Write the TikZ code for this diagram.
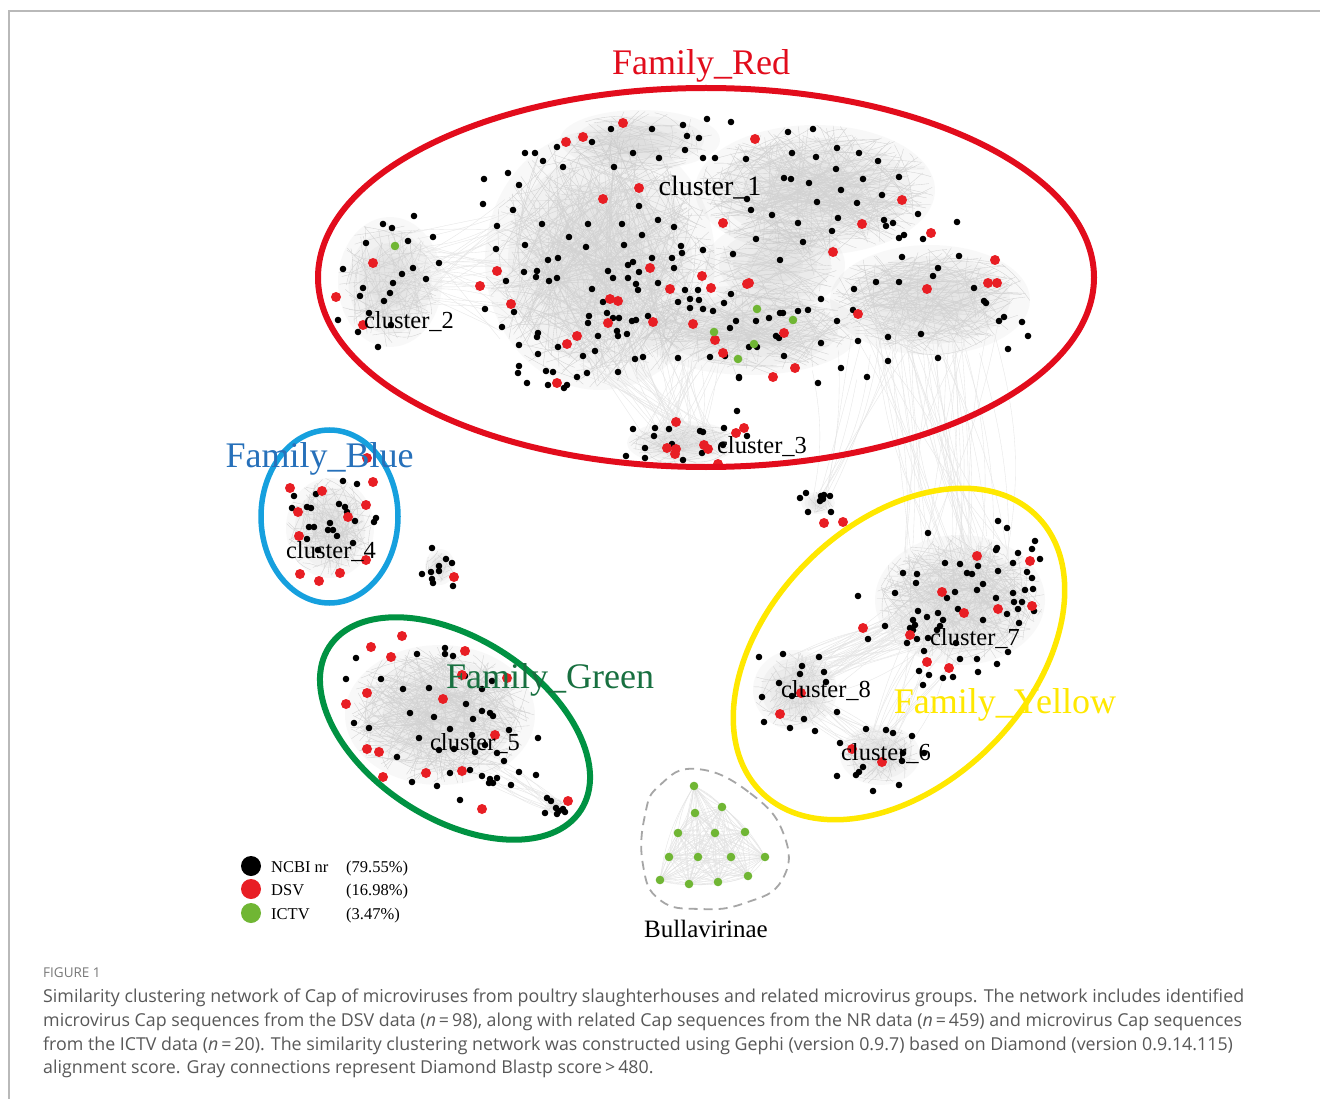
\documentclass[tikz,border=0pt]{standalone}
\usepackage{fontspec}
\setmainfont{Liberation Serif}
\newfontfamily\capfont{Open Sans}
\usepackage{tikz}
\usetikzlibrary{positioning}
\usepackage{xcolor}
\definecolor{famred}{RGB}{226,12,28}
\definecolor{famblue}{RGB}{22,160,222}
\definecolor{famgreen}{RGB}{0,146,66}
\definecolor{famyellow}{RGB}{255,232,0}
\definecolor{bluetext}{RGB}{38,112,186}
\definecolor{greentext}{RGB}{24,112,64}
\definecolor{dsvred}{RGB}{232,30,36}
\definecolor{ictvgreen}{RGB}{112,182,52}
\definecolor{capgray}{RGB}{88,88,88}
\tikzstyle{edge}      = [draw=gray!35, line width=0.35pt]
\tikzstyle{haze}      = [fill=gray, opacity=0.05]
\tikzstyle{ring}      = [line width=5.5pt]
\tikzstyle{family}    = [anchor=base, inner sep=0pt, font=\fontsize{36}{40}\selectfont]
\tikzstyle{cluster}   = [anchor=base, inner sep=0pt, font=\fontsize{24.5}{28}\selectfont]
\tikzstyle{legendtxt} = [anchor=base west, inner sep=0pt, font=\fontsize{16.5}{19}\selectfont]
\tikzstyle{caption}   = [anchor=base west, inner sep=0pt, text=capgray, font=\capfont\fontsize{17.8}{21}\selectfont]
% random gray connections inside one cluster: cx, cy, rx, ry, count
\newcommand{\edgecloud}[5]{%
  \foreach \s in {1,0.8,0.6,0.4}
    \fill[haze] (#1,#2) ellipse [x radius=\s*#3pt, y radius=\s*#4pt];
  \foreach \k in {1,...,#5}{%
    \pgfmathsetmacro{\angA}{360*rnd}\pgfmathsetmacro{\radA}{sqrt(rnd)}%
    \pgfmathsetmacro{\angB}{360*rnd}\pgfmathsetmacro{\radB}{sqrt(rnd)}%
    \pgfmathsetmacro{\bendAB}{50*rnd-25}%
    \draw[edge] ({#1+#3*\radA*cos(\angA)},{#2+#4*\radA*sin(\angA)})
      to[bend left=\bendAB] ({#1+#3*\radB*cos(\angB)},{#2+#4*\radB*sin(\angB)});
  }}
% gray connections between two clusters
\newcommand{\edgebridge}[9]{%
  \foreach \k in {1,...,#9}{%
    \pgfmathsetmacro{\angA}{360*rnd}\pgfmathsetmacro{\radA}{sqrt(rnd)}%
    \pgfmathsetmacro{\angB}{360*rnd}\pgfmathsetmacro{\radB}{sqrt(rnd)}%
    \pgfmathsetmacro{\bendAB}{30*rnd-15}%
    \draw[edge, draw=gray!20] ({#1+#3*\radA*cos(\angA)},{#2+#4*\radA*sin(\angA)})
      to[bend left=\bendAB] ({#5+#7*\radB*cos(\angB)},{#6+#8*\radB*sin(\angB)});
  }}

\begin{document}
\begin{tikzpicture}[x=1pt, y=-1pt]
  \useasboundingbox (0,0) rectangle (1320,1099);
  \fill[white] (0,0) rectangle (1320,1099);
  \draw[gray!55, line width=1.3pt] (1320,11) -- (9,11) -- (9,1099);

  % gray connections
  \pgfmathsetseed{11}
  \edgecloud{600}{260}{115}{130}{380}
  \edgecloud{815}{190}{120}{65}{260}
  \edgecloud{930}{300}{100}{55}{180}
  \edgecloud{750}{330}{110}{45}{150}
  \edgecloud{775}{265}{70}{45}{80}
  \edgecloud{640}{140}{80}{30}{60}
  \edgecloud{390}{282}{52}{65}{100}
  \edgecloud{682}{443}{55}{22}{60}
  \edgecloud{330}{528}{44}{50}{100}
  \edgecloud{440}{567}{15}{18}{12}
  \edgecloud{440}{715}{95}{70}{260}
  \edgecloud{960}{600}{85}{65}{220}
  \edgecloud{795}{690}{42}{40}{65}
  \edgecloud{880}{755}{40}{30}{50}
  \edgecloud{818}{503}{17}{11}{10}
  \edgecloud{555}{806}{10}{8}{8}
  \edgebridge{400}{270}{40}{40}{520}{270}{40}{80}{40}
  \edgebridge{650}{360}{90}{25}{685}{440}{45}{18}{50}
  \edgebridge{930}{330}{80}{30}{960}{560}{60}{30}{45}
  \edgebridge{920}{620}{40}{30}{800}{680}{30}{30}{45}
  \edgebridge{800}{700}{20}{20}{875}{750}{25}{20}{15}
  \edgebridge{940}{640}{40}{30}{880}{755}{25}{20}{15}
  \edgebridge{500}{770}{30}{20}{555}{806}{8}{8}{15}
  \edgebridge{850}{350}{60}{30}{818}{503}{12}{8}{10}
  \foreach \xa/\ya in {694/786,722/807,695/813,678/833,715/833,745/832,669/857,698/857,731/857,765/857,660/880,689/884,718/882,748/876}
    \foreach \xb/\yb in {694/786,722/807,695/813,678/833,715/833,745/832,669/857,698/857,731/857,765/857,660/880,689/884,718/882,748/876}
      \draw[edge, draw=gray!22] (\xa,\ya) to[bend left=12] (\xb,\yb);

  % NCBI nr
  \foreach \x/\y in {414/216,383/224,392/228,433/237,366/243,408/241,343/269,413/268,439/263,402/274,426/279,363/288,393/283,390/293,360/296,384/301,338/320,369/313,358/332,378/347,391/325,
    611/129,652/129,683/125,707/119,687/136,699/138,592/142,557/147,525/153,535/153,543/161,633/153,659/158,685/150,563/167,614/167,508/173,484/179,519/185,483/204,513/210,639/206,658/220,674/227,542/224,588/224,622/224,497/226,569/237,642/235,525/245,586/247,624/245,496/249,681/246,548/260,558/258,652/258,672/258,682/253,628/265,633/262,524/272,537/271,608/271,639/272,674/268,536/277,549/281,557/278,613/278,628/278,658/283,506/281,636/284,638/290,685/290,698/290,592/289,603/302,678/302,690/299,690/308,699/300,485/309,514/312,607/313,589/316,613/318,619/318,648/316,588/323,632/321,636/320,617/331,618/336,627/334,598/336,538/333,537/337,502/327,519/345,558/347,595/351,538/354,583/356,635/359,643/357,678/358,519/366,518/373,546/371,553/372,577/377,587/373,618/372,527/383,548/385,567/385,564/388,
    731/122,788/132,813/129,703/158,715/158,746/159,792/153,816/157,837/148,859/153,878/161,836/169,784/178,791/179,809/183,863/179,899/177,747/199,841/190,882/195,751/210,817/202,857/203,772/215,838/218,798/223,884/220,893/223,886/226,918/214,957/222,756/239,803/242,832/231,899/238,904/235,923/239,703/250,733/254,780/260,902/257,959/256,938/268,933/276,876/282,899/282,854/289,974/288,731/294,724/303,821/299,984/301,986/303,703/309,713/311,769/318,780/313,783/313,798/311,808/310,853/310,736/321,756/321,837/321,1004/317,999/321,1022/322,730/328,776/336,779/338,921/334,888/337,1028/336,858/341,821/343,749/347,757/347,1008/349,784/356,710/357,725/356,888/361,938/358,841/368,739/377,867/377,818/383,
    633/429,655/428,669/429,700/431,703/432,724/428,654/436,672/444,645/448,626/456,645/458,683/460,702/453,723/445,747/436,737/411,739/378,
    343/481,357/484,294/496,316/494,292/508,307/507,311/508,339/504,345/507,347/512,355/521,376/518,374/522,309/527,314/527,330/523,328/530,333/530,337/536,307/539,353/543,318/550,
    432/548,446/559,452/563,439/566,431/572,439/571,422/574,432/579,433/583,453/586,
    356/658,417/654,445/648,445/654,453/656,346/679,381/679,403/689,429/688,465/676,482/689,492/681,466/704,482/711,490/713,493/716,410/713,434/717,473/719,354/723,369/728,450/729,472/735,509/730,538/738,419/738,439/750,454/749,475/752,485/745,497/753,397/757,504/761,470/770,450/773,482/776,490/779,493/783,489/783,497/778,519/772,536/775,511/785,437/786,412/782,460/800,547/798,551/801,556/808,545/813,557/814,563/809,565/812,559/811,
    806/493,821/496,824/495,830/496,820/501,823/499,800/498,808/512,831/512,
    998/521,1007/528,928/533,1035/541,997/548,996/550,1018/553,1032/549,1040/559,960/564,978/566,1013/563,903/573,917/574,945/563,967/573,972/574,998/571,1027/572,1032/578,916/583,895/593,983/584,955/592,977/590,1013/593,1025/590,1033/589,858/596,947/598,996/598,1014/602,1022/602,1018/609,1034/611,958/609,918/611,938/613,927/617,983/620,1007/614,913/620,885/626,915/625,910/628,913/630,943/620,1019/623,917/639,907/643,868/639,928/638,940/626,937/630,956/643,924/651,1008/652,977/659,997/664,960/659,919/671,929/675,943/678,953/677,978/672,923/685,
    759/657,783/654,802/666,819/657,800/674,824/672,779/683,826/682,762/697,792/696,837/712,764/722,790/728,804/719,815/731,
    866/729,886/730,893/733,912/736,840/743,903/753,924/753,863/767,859/772,856/775,837/776,873/791,899/785,902/761}
    \fill[black] (\x,\y) circle[radius=3.3pt];

  % DSV
  \foreach \x/\y in {623/123,566/142,583/137,639/188,603/199,373/263,336/297,363/325,497/271,480/286,511/304,650/268,702/276,670/289,610/299,618/301,608/323,653/322,693/324,577/336,567/344,557/383,755/139,902/200,723/223,862/224,931/233,833/252,995/260,988/283,997/283,927/289,711/288,747/284,749/283,858/314,784/333,715/340,723/353,795/368,773/377,
    676/422,744/428,736/433,667/448,676/449,675/454,704/445,708/449,718/464,
    290/488,322/491,373/482,366/505,298/512,348/517,299/536,366/560,300/574,319/581,340/573,367/458,454/577,
    402/636,371/647,391/657,465/651,507/678,462/675,367/693,443/699,346/704,495/735,367/749,379/752,383/777,426/773,462/771,482/809,568/801,
    824/523,843/522,977/556,1030/561,942/592,1032/606,964/613,998/609,863/628,910/635,927/662,949/668,780/714,801/693,852/749,882/762}
    \fill[dsvred] (\x,\y) circle[radius=5pt];

  % ICTV
  \foreach \x/\y in {395/246,757/309,793/320,714/332,754/344,738/359,
    694/786,722/807,695/813,678/833,715/833,745/832,669/857,698/857,731/857,765/857,660/880,689/884,718/882,748/876}
    \fill[ictvgreen] (\x,\y) circle[radius=4.3pt];

  % families
  \draw[ring, famred, line width=6pt] (706,277.5) ellipse [x radius=388pt, y radius=189.5pt];
  \draw[ring, famblue] (329.5,516.5) ellipse [x radius=68.5pt, y radius=86.5pt];
  \draw[ring, famgreen, line width=6pt, rotate around={-33:(455,728.5)}] (455,728.5) ellipse [x radius=150pt, y radius=90pt];
  \draw[ring, famyellow, rotate around={45:(899,654)}] (899,654) ellipse [x radius=195pt, y radius=130pt];
  \draw[gray!70, line width=1.8pt, dash pattern=on 9pt off 6pt] plot[smooth cycle, tension=0.8] coordinates
    {(697,769) (750,793) (784,835) (782,880) (745,903) (700,909) (660,900) (643,865) (645,815) (660,785)};

  \node[family, text=famred]    (famRed)    at (701,75)   {Family\_Red};
  \node[family, text=bluetext]  (famBlue)   at (319.5,467) {Family\_Blue};
  \node[family, text=greentext] (famGreen)  at (550,688)  {Family\_Green};
  \node[family, text=famyellow] (famYellow) at (1005,713) {Family\_Yellow};

  \node[cluster, font=\fontsize{28}{32}\selectfont] (cl1) at (710,196) {cluster\_1};
  \node[cluster] (cl2) at (409,328) {cluster\_2};
  \node[cluster] (cl3) at (762,453) {cluster\_3};
  \node[cluster] (cl4) at (331,558) {cluster\_4};
  \node[cluster] (cl5) at (475,750) {cluster\_5};
  \node[cluster] (cl6) at (886,760) {cluster\_6};
  \node[cluster] (cl7) at (975,645) {cluster\_7};
  \node[cluster] (cl8) at (826,697) {cluster\_8};
  \node[cluster, font=\fontsize{25}{28}\selectfont] (bull) at (706,937) {Bullavirinae};

  % legend
  \fill[black]      (251,866) circle[radius=10pt];
  \fill[dsvred]     (251,889) circle[radius=10pt];
  \fill[ictvgreen]  (251,913) circle[radius=10pt];
  \node[legendtxt] (ncbi)  at (271,872) {NCBI nr};
  \node[legendtxt] (dsv)   at (271,895) {DSV};
  \node[legendtxt] (ictv)  at (271,919) {ICTV};
  \node[legendtxt] (ncbiP) at (346,872) {(79.55\%)};
  \node[legendtxt] (dsvP)  at (346,895) {(16.98\%)};
  \node[legendtxt] (ictvP) at (346,919) {(3.47\%)};

  % caption
  \node[caption, text=capgray!80, font=\capfont\fontsize{13.5}{16}\selectfont] (figno) at (43,977) {FIGURE 1};
  \node[caption] (cap1) at (43,1002) {Similarity clustering network of Cap of microviruses from poultry slaughterhouses and related microvirus groups. The network includes identified};
  \node[caption] (cap2) at (43,1026) {microvirus Cap sequences from the DSV data (\textit{n}\,=\,98), along with related Cap sequences from the NR data (\textit{n}\,=\,459) and microvirus Cap sequences};
  \node[caption] (cap3) at (43,1050) {from the ICTV data (\textit{n}\,=\,20). The similarity clustering network was constructed using Gephi (version 0.9.7) based on Diamond (version 0.9.14.115)};
  \node[caption] (cap4) at (43,1073) {alignment score. Gray connections represent Diamond Blastp score\,>\,480.};
\end{tikzpicture}
\end{document}
